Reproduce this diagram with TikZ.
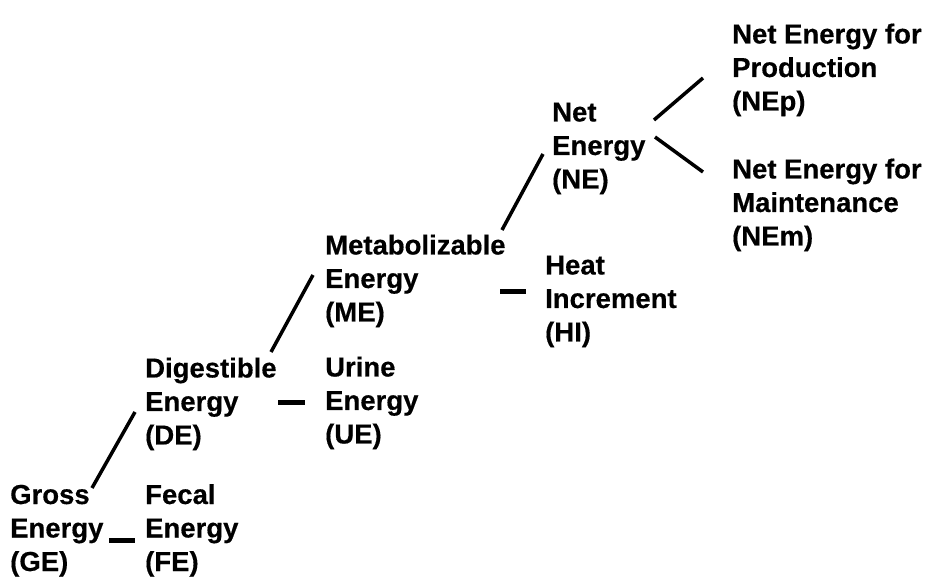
\documentclass[tikz,border=0pt]{standalone}
\usepackage{fontspec}
\setmainfont{Liberation Sans}[BoldFeatures={FakeBold=0.4}]
\usetikzlibrary{calc}
\begin{document}
\begin{tikzpicture}[x=1pt,y=-1pt,
  lbl/.style={anchor=base west,inner sep=0pt,align=left,
    font=\fontsize{27.5}{33.5}\selectfont\bfseries},
  diag/.style={line width=3.5pt},
  dashline/.style={line width=5pt}]
\useasboundingbox (0,0) rectangle (930,577);
% node positions: baseline of the last line
\node[lbl] (ge) at (10,571) {Gross\\Energy\\(GE)};
\node[lbl] (fe) at (145,571) {Fecal\\Energy\\(FE)};
\node[lbl] (de) at (145,444.5) {Digestible\\Energy\\(DE)};
\node[lbl] (ue) at (325,443.5) {Urine\\Energy\\(UE)};
\node[lbl] (me) at (325,321.5) {Metabolizable\\Energy\\(ME)};
\node[lbl] (hi) at (545,341.5) {Heat\\Increment\\(HI)};
\node[lbl] (ne) at (552,188.5) {Net\\Energy\\(NE)};
\node[lbl] (nep) at (732,110.5) {Net Energy for\\Production\\(NEp)};
\node[lbl] (nem) at (732,245.5) {Net Energy for\\Maintenance\\(NEm)};
\draw[diag] ($(ge.base west)+(82,-83)$) -- ($(de.base west)+(-10,-32.5)$);
\draw[dashline] ($(ge.base west)+(99,-31)$) -- ($(fe.base west)+(-10,-31)$);
\draw[dashline] ($(de.base west)+(133,-41.5)$) -- ($(ue.base west)+(-20,-40.5)$);
\draw[diag] ($(de.base west)+(126,-92.5)$) -- ($(me.base west)+(-12,-46.5)$);
\draw[dashline] ($(me.base west)+(175,-29.5)$) -- ($(hi.base west)+(-19,-49.5)$);
\draw[diag] ($(me.base west)+(177,-91.5)$) -- ($(ne.base west)+(-9,-34.5)$);
\draw[diag] ($(ne.base west)+(102,-68.5)$) -- ($(nep.base west)+(-29,-32.5)$);
\draw[diag] ($(ne.base west)+(103,-51.5)$) -- ($(nem.base west)+(-29,-73.5)$);
\end{tikzpicture}
\end{document}
